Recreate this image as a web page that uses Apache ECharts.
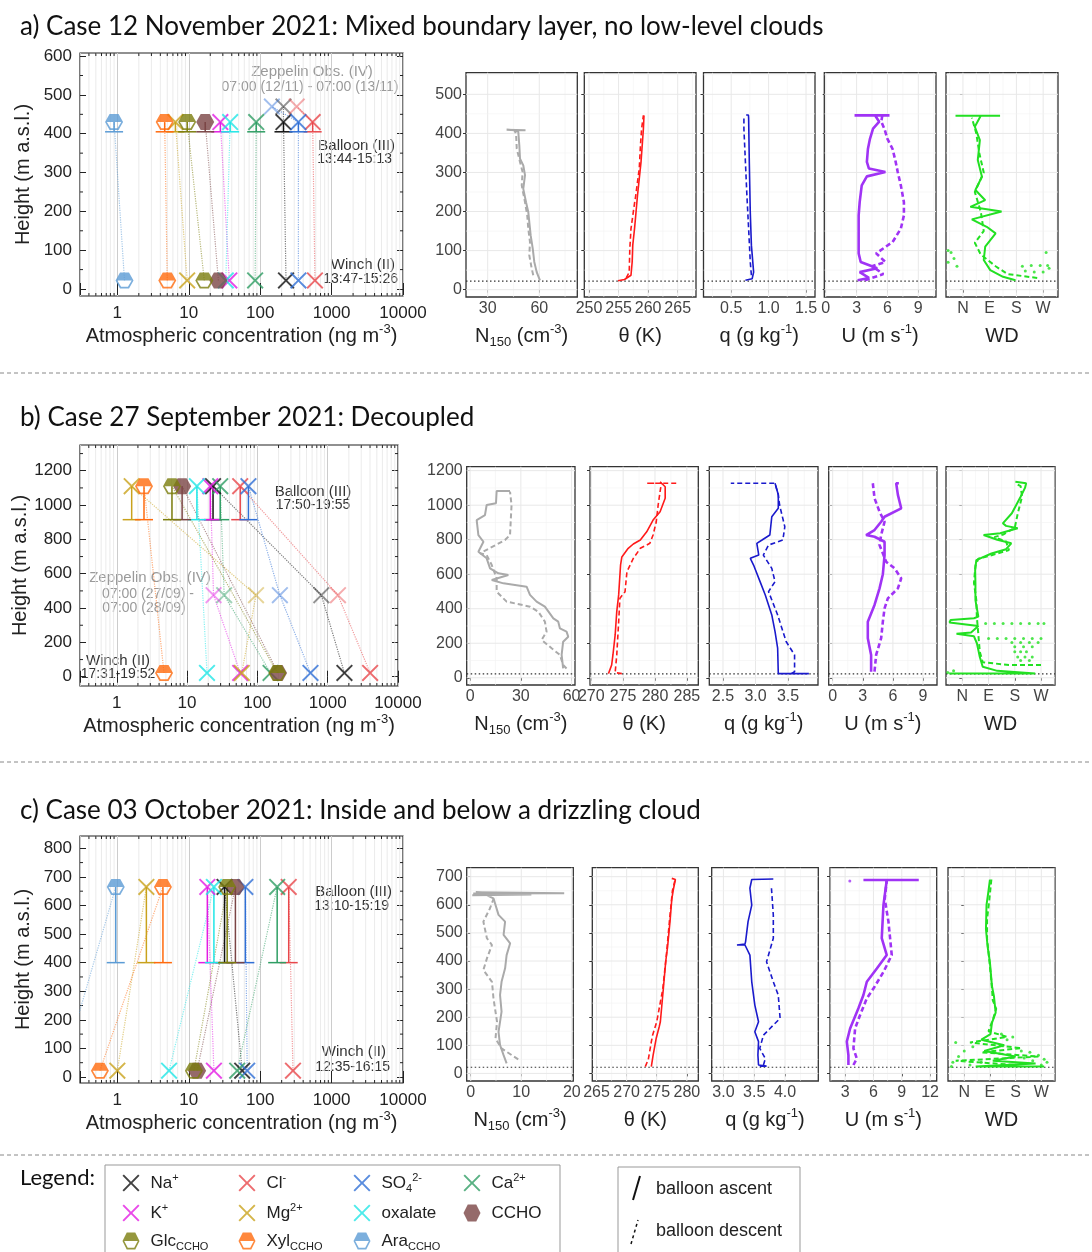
<!DOCTYPE html>
<html>
<head>
<meta charset="utf-8">
<title>Balloon, winch and Zeppelin profiles</title>
<script src="https://cdn.jsdelivr.net/npm/echarts@6.0.0/dist/echarts.min.js"></script>
<style>
  html, body { margin: 0; padding: 0; background: #fff; }
  #chart { width: 1092px; height: 1252px; }
</style>
</head>
<body>
<div id="chart"></div>
<script>
const FONT = 'Liberation Sans'
const TITLE_FONT = 'Lato'

// ---------- chemistry, left panels (ng m-3) ----------
const speciesKeys = ['Na', 'Cl', 'SO4', 'Ca', 'K', 'Mg', 'oxalate', 'CCHO', 'Glc', 'Xyl', 'Ara']
const speciesColors = ['#111111', '#e8474b', '#2f6fd6', '#2f9e64', '#e31ce3', '#c9a21c', '#20e6e6', '#7a4545', '#7b7d0d', '#ff6a0d', '#5b9bd5']

const balloonA = [212, 543, 343, 88, 27.7, 6.5, 38, 17, 9.5, 4.6, 0.9]
const winchA = [230, 585, 343, 85, 37, 9.5, 33, 26, 16.5, 5.0, 1.26]
const zeppelinA = [212, 325, 146, null, null, null, null, null, null, null, null]

const balloonB = [23.4, 57, 74.6, 29.6, 21.4, 1.63, 13.8, 8.5, 6.1, 2.44, null]
const winchB = [1730, 4014, 569, 154, 57, 60, 19.2, 197, 192, 4.7, null]
const zeppelinB = [812, 1400, 209, 33.7, 23.8, 95.6, null, null, null, null, null]

const balloonC = [31.7, 251, 62, 173, 18.2, 2.55, 22.5, 45, 34.5, 4.35, 0.95]
const winchC = [56, 288, 65.8, 47.7, 22.5, 1.0, 5.3, 13.1, 11.8, 0.57, 0.17]
const zeppelinC = [null, null, null, null, null, null, null, null, null, null, null]

const balloonHeights = [430, 1110, 665]
const balloonLowHeights = [405, 915, 400]
const winchHeights = [22, 22, 22]
const zeppelinHeights = [470, 475, null]

// ---------- profiles: [value, height m] ----------
// case a
const n150AscA = [[60.4, 24], [58.5, 45], [57.1, 71], [56.2, 105], [55, 139], [54.2, 173], [53.6, 199], [52.3, 224], [50.7, 258], [51.7, 293], [50.7, 318], [48.8, 335], [48.4, 369], [47.8, 404], [46, 408], [41, 409], [52, 408]]
const n150DesA = [[56.5, 37], [55.6, 54], [54.2, 88], [54.6, 122], [53.6, 156], [53, 190], [51.7, 224], [49.8, 267], [50.3, 301], [48.8, 327], [46.9, 361], [46.5, 399], [45.5, 408]]
const thetaAscA = [[254.9, 23], [256, 26], [257.1, 37], [257.3, 71], [257.4, 114], [257.7, 156], [258.2, 241], [258.8, 327], [259.2, 412], [259.3, 446]]
const thetaDesA = [[256.3, 30], [256.8, 45], [256.9, 105], [257.1, 156], [257.5, 200], [257.9, 241], [258.5, 310], [258.7, 369], [258.9, 412], [259.2, 446]]
const qAscA = [[0.69, 24], [0.78, 28], [0.80, 45], [0.77, 114], [0.755, 199], [0.742, 327], [0.733, 440], [0.73, 447], [0.70, 447]]
const qDesA = [[0.77, 37], [0.755, 71], [0.733, 156], [0.71, 241], [0.69, 327], [0.67, 412], [0.67, 440]]
const uAscA = [[3.1, 24], [4.2, 30], [3.3, 45], [5.0, 55], [3.4, 71], [3.2, 93], [3.2, 122], [3.2, 156], [3.2, 190], [3.3, 224], [3.5, 267], [4.0, 290], [5.8, 301], [4.2, 310], [4.0, 327], [4.1, 360], [4.3, 386], [4.6, 412], [5.2, 430], [4.8, 446], [2.8, 446], [6.2, 446]]
const uDesA = [[3.8, 24], [5.6, 40], [4.5, 60], [5.8, 71], [4.9, 93], [6.5, 122], [7.3, 156], [7.6, 190], [7.6, 224], [7.3, 267], [7.0, 301], [6.8, 327], [6.5, 360], [6.0, 386], [5.7, 412], [5.4, 430], [5.5, 446]]
const wdAscA = [[177, 24], [135, 33], [92, 50], [70, 76], [75, 110], [110, 144], [80, 161], [30, 180], [130, 200], [25, 212], [75, 229], [42, 255], [64, 289], [50, 332], [57, 383], [40, 417], [60, 445], [-25, 445], [125, 445]]
const wdDesA = [[250, 30], [150, 40], [110, 60], [60, 90], [40, 120], [70, 150], [60, 200], [40, 250], [70, 300], [55, 350], [45, 400], [30, 440]]
const wdDotsA = [[-50, 100], [-40, 95], [-30, 80], [-50, 70], [-20, 60], [210, 48], [240, 45], [270, 45], [290, 55], [200, 60], [230, 62], [260, 62], [285, 62], [280, 95]]

// case b
const n150AscB = [[55, 54], [54.1, 132], [55, 209], [58, 238], [57, 267], [53.1, 286], [52.1, 325], [49.2, 344], [44.2, 412], [39.3, 441], [35.4, 480], [33.4, 528], [19.7, 547], [12.8, 566], [22.6, 595], [16.7, 605], [11.8, 634], [9.8, 692], [4.9, 730], [7.9, 788], [4.9, 827], [3.9, 914], [8.8, 943], [9.8, 1001], [15.3, 1011], [15.7, 1082], [23.6, 1082]]
const n150DesB = [[57, 54], [55, 74], [53.1, 132], [48.2, 171], [42.3, 219], [45.2, 267], [44.2, 325], [40.3, 383], [35.4, 412], [21.6, 441], [15.7, 499], [15.7, 576], [12.8, 653], [9.8, 711], [5.9, 721], [20.6, 798], [23.6, 827], [24, 904], [24.5, 1001], [23.6, 1078]]
const thetaAscB = [[272.7, 24], [273.0, 24], [273.2, 74], [273.4, 132], [273.75, 248], [274.0, 383], [274.3, 480], [274.6, 654], [274.8, 700], [275.8, 750], [276.6, 775], [277.7, 798], [278.7, 846], [279.7, 914], [280.8, 962], [281.6, 1040], [281.6, 1107], [280.8, 1136]]
const thetaDesB = [[274.8, 24], [273.75, 30], [274.0, 132], [274.3, 325], [274.5, 461], [275.3, 499], [275.6, 615], [276.6, 692], [277.7, 750], [279.2, 779], [279.7, 827], [280.2, 904], [280.5, 1001], [280.8, 1078], [281.0, 1127], [278.7, 1127], [283.6, 1127]]
const qAscB = [[3.82, 24], [3.35, 24], [3.34, 35], [3.34, 171], [3.30, 267], [3.25, 364], [3.20, 422], [3.15, 480], [3.07, 557], [2.97, 653], [2.92, 692], [3.05, 711], [3.02, 779], [3.10, 798], [3.22, 827], [3.25, 933], [3.35, 982], [3.35, 1060], [3.30, 1127]]
const qDesB = [[3.55, 24], [3.60, 35], [3.60, 132], [3.47, 210], [3.34, 364], [3.20, 499], [3.30, 557], [3.25, 634], [3.12, 711], [3.20, 769], [3.42, 798], [3.45, 875], [3.37, 1001], [3.35, 1060], [3.30, 1127], [2.62, 1127]]
const uAscB = [[3.83, 35], [3.83, 132], [3.5, 229], [3.5, 325], [4.17, 422], [4.67, 518], [5.0, 600], [5.17, 711], [5.17, 788], [4.17, 817], [3.33, 827], [4.17, 856], [4.83, 904], [5.17, 933], [6.83, 982], [6.5, 1060], [6.33, 1127], [6.6, 1127]]
const uDesB = [[4.17, 35], [4.33, 132], [4.83, 229], [5.0, 325], [5.17, 402], [5.5, 460], [6.5, 518], [6.83, 576], [6.17, 634], [5.33, 672], [4.67, 769], [4.83, 827], [5.17, 904], [4.67, 962], [4.17, 1040], [4.0, 1127]]
const wdAscB = [[-45, 25], [250, 25], [120, 40], [70, 64], [60, 120], [55, 160], [50, 200], [40, 240], [-20, 255], [30, 262], [55, 300], [-44, 320], [-40, 335], [40, 345], [55, 354], [45, 450], [45, 547], [44, 624], [48, 682], [100, 720], [150, 745], [168, 779], [120, 800], [73, 827], [130, 837], [190, 866], [150, 880], [139, 895], [170, 953], [200, 1049], [215, 1100], [219, 1127], [182, 1136]]
const wdDesB = [[270, 74], [160, 74], [70, 90], [60, 150], [55, 250], [50, 350], [48, 450], [40, 550], [45, 650], [55, 690], [100, 710], [160, 740], [150, 790], [110, 815], [140, 830], [180, 870], [190, 950], [205, 1050], [200, 1110], [182, 1127]]
const wdDotsB = [[80, 315], [110, 315], [140, 315], [170, 315], [200, 315], [230, 315], [260, 315], [280, 315], [90, 228], [120, 228], [150, 228], [180, 228], [210, 228], [240, 228], [270, 228], [170, 205], [200, 205], [230, 205], [260, 205], [180, 180], [210, 180], [240, 180], [180, 150], [200, 150], [220, 150], [190, 120], [215, 120], [240, 120], [200, 100], [230, 100], [-30, 40], [-50, 30]]

// case c
const n150AscC = [[7.1, 36], [6.5, 65], [5.8, 101], [5.5, 148], [6.1, 220], [5.8, 279], [6.1, 326], [6.8, 374], [7.1, 421], [7.8, 463], [6.5, 493], [6.8, 540], [5.5, 564], [4.5, 623], [3.0, 635], [0.5, 640], [18.5, 641], [1, 645], [12, 637], [0.3, 634]]
const n150DesC = [[9.4, 50], [6.1, 89], [4.9, 124], [5.2, 184], [4.5, 267], [4.2, 326], [2.5, 368], [3.2, 409], [4.2, 457], [3.2, 481], [2.5, 540], [3.8, 587], [4.5, 620]]
const thetaAscC = [[274.1, 24], [274.4, 65], [274.9, 124], [275.4, 165], [275.6, 184], [276.1, 303], [276.5, 400], [276.8, 450], [277.2, 540], [277.5, 620], [277.8, 659], [278.1, 690], [277.5, 694]]
const thetaDesC = [[273.1, 24], [273.6, 50], [274.1, 112], [274.3, 135], [275, 184], [276, 300], [276.6, 421], [277.1, 540], [277.6, 650], [278.1, 694]]
const qAscC = [[3.59, 26], [3.70, 26], [3.57, 30], [3.56, 65], [3.57, 113], [3.51, 148], [3.57, 184], [3.51, 243], [3.46, 326], [3.43, 421], [3.35, 457], [3.22, 457], [3.35, 460], [3.36, 469], [3.40, 540], [3.46, 599], [3.43, 659], [3.46, 690], [3.81, 692]]
const qDesC = [[3.65, 30], [3.68, 53], [3.59, 89], [3.65, 136], [3.81, 172], [3.92, 196], [3.89, 279], [3.81, 326], [3.70, 397], [3.81, 481], [3.81, 563], [3.78, 659]]
const uAscC = [[3.35, 30], [3.35, 65], [3.18, 113], [3.53, 160], [4.41, 232], [4.94, 279], [5.30, 326], [6.36, 373], [7.41, 421], [6.88, 481], [7.06, 599], [7.41, 688], [4.94, 688], [10.8, 688]]
const uDesC = [[3.88, 30], [4.24, 53], [3.88, 89], [4.06, 160], [4.59, 208], [5.30, 267], [6.0, 302], [7.06, 361], [7.94, 421], [7.59, 540], [7.2, 620], [7.41, 688]]
const uDotsC = [[3.5, 685]]
const wdAscC = [[90, 690], [85, 650], [78, 600], [76, 513], [82, 450], [90, 394], [97, 311], [104, 275], [110, 216], [97, 180], [92, 140], [60, 120], [140, 100], [70, 80], [180, 60], [100, 45], [250, 35], [40, 25], [280, 25]]
const wdDesC = [[95, 690], [88, 620], [80, 550], [80, 480], [88, 400], [95, 330], [100, 260], [112, 230], [100, 190], [85, 150], [150, 130], [20, 110], [200, 90], [60, 75], [260, 60], [-30, 45], [180, 30]]
const wdDotsC = [[-40, 40], [-20, 60], [-45, 25], [0, 80], [30, 95], [-30, 110], [150, 120], [170, 130], [130, 140], [200, 80], [230, 75], [260, 65], [280, 50], [290, 40], [270, 30], [240, 45], [210, 55], [60, 40], [20, 30]]

// ---------- tick labels ----------
const leftYTicks = [[0, 100, 200, 300, 400, 500, 600], [0, 200, 400, 600, 800, 1000, 1200], [0, 100, 200, 300, 400, 500, 600, 700, 800]]
const profYTicks = [[0, 100, 200, 300, 400, 500], [0, 200, 400, 600, 800, 1000, 1200], [0, 100, 200, 300, 400, 500, 600, 700]]
const profXTicks = [
  [[30, 60], [250, 255, 260, 265], [0.5, 1.0, 1.5], [0, 3, 6, 9], [0, 90, 180, 270]],
  [[0, 30, 60], [270, 275, 280, 285], [2.5, 3.0, 3.5], [0, 3, 6, 9], [0, 90, 180, 270]],
  [[0, 10, 20], [265, 270, 275, 280], [3.0, 3.5, 4.0], [3, 6, 9, 12], [0, 90, 180, 270]]
]
const windLetters = { 0: 'N', 90: 'E', 180: 'S', 270: 'W' }

// ---------- layout ----------
const leftRects = [[80, 53, 323, 243], [80, 445, 318, 241], [80, 836, 323, 247]]
const leftYRanges = [[-18, 608], [-54, 1350], [-21, 843]]
const profTop = [72.7, 466.7, 867.7]
const profBottom = [297, 685, 1081]
const profLeft = [[466, 584.3, 703.5, 824.3, 946], [466.7, 590, 709.3, 828.7, 946], [466.7, 592.3, 711.7, 830, 948]]
const profRight = [[577.3, 696, 815, 936, 1058], [575, 698.3, 818, 937, 1055], [573.3, 698.3, 818.3, 936.7, 1055]]
const profYRange = [[-18.7, 555.3], [-42, 1223], [-27, 732]]
const profXRange = [
  [[17.4, 82.1], [249.2, 268.1], [0.13, 1.62], [-0.14, 10.72], [-57, 320]],
  [[-2, 62], [269.8, 286.8], [2.29, 3.96], [-0.4, 10.4], [-56, 318]],
  [[-0.8, 20.3], [264.3, 281.9], [2.81, 4.54], [1.4, 12.7], [-57, 318]]
]
const profNames = ['N{sub|150} (cm{sup|-3})', 'θ (K)', 'q (g kg{sup|-1})', 'U (m s{sup|-1})', 'WD']
const profColors = ['#aaaaaa', '#ff1a1a', '#1a1acc', '#a033f5', '#22e022']
const profWidths = [2, 1.6, 1.6, 2.6, 2]

const profAscents = [
  [n150AscA, thetaAscA, qAscA, uAscA, wdAscA],
  [n150AscB, thetaAscB, qAscB, uAscB, wdAscB],
  [n150AscC, thetaAscC, qAscC, uAscC, wdAscC]
]
const profDescents = [
  [n150DesA, thetaDesA, qDesA, uDesA, wdDesA],
  [n150DesB, thetaDesB, qDesB, uDesB, wdDesB],
  [n150DesC, thetaDesC, qDesC, uDesC, wdDesC]
]
const profDots = [
  [null, null, null, null, wdDotsA],
  [null, null, null, null, wdDotsB],
  [null, null, null, uDotsC, wdDotsC]
]

const X_PATH = 'path://M8,0L50,42L92,0L100,8L58,50L100,92L92,100L50,58L8,100L0,92L42,50L0,8Z'
const HEX_PATH = 'path://M25,0L75,0L100,50L75,100L25,100L0,50Z'
const HALF_HEX_PATH = 'path://M25,0L75,0L100,50L75,100L25,100L0,50Z M31,11L10,50L31,89L69,89L90,50L69,11Z M25,0L75,0L100,50L0,50Z'
function symbolOf(k) { return k < 7 ? X_PATH : (k === 7 ? HEX_PATH : HALF_HEX_PATH) }
function symbolSizeOf(k) { return k < 7 ? [17, 17] : [18, 16] }

function richSS(fs, color) {
  const s = Math.round(fs * 0.65)
  return {
    sup: { fontSize: s, verticalAlign: 'top', color: color, fontFamily: FONT },
    sub: { fontSize: s, verticalAlign: 'bottom', color: color, fontFamily: FONT }
  }
}

function minorValues(major, lo, hi) {
  const step = major[1] - major[0]
  const out = []
  for (let i = -1; i < major.length; i++) {
    const v = +(major[0] + (i + 0.5) * step).toFixed(6)
    if (v > lo && v < hi) out.push(v)
  }
  return out
}

function logMinorValues() {
  const out = []
  for (let d = -1; d <= 3; d++) {
    for (let m = 2; m <= 9; m++) {
      const v = +(m * Math.pow(10, d)).toPrecision(3)
      if (v > 0.3 && v < 10000) out.push(v)
    }
  }
  return out
}

function decadeLabel(v) {
  const l = Math.log10(v)
  return (v >= 1 && Math.abs(l - Math.round(l)) < 1e-6) ? String(Math.round(v)) : ''
}
const plainLabel = v => String(v)

const grids = []
const xAxes = []
const yAxes = []
const series = []

// grid lines, minor ticks and the 22 m reference line
function decorSeries(xi, yi, items) {
  return {
    type: 'custom',
    xAxisIndex: xi,
    yAxisIndex: yi,
    silent: true,
    z: 1,
    encode: { x: 0, y: 1 },
    data: items,
    renderItem: function(params, api) {
      const cs = params.coordSys
      const p = api.coord([api.value(0), api.value(1)])
      const kind = api.value(2)
      const L = cs.x; const R = cs.x + cs.width; const T = cs.y; const B = cs.y + cs.height
      const seg = (x1, y1, x2, y2, stroke, w, dash) => ({
        type: 'line', shape: { x1, y1, x2, y2 }, style: { stroke, lineWidth: w, lineDash: dash || null }
      })
      switch (kind) {
        case 0: return seg(p[0], T, p[0], B, '#e8e8e8', 1)
        case 1: return seg(p[0], T, p[0], B, '#f2f2f2', 0.6)
        case 2: return seg(L, p[1], R, p[1], '#e8e8e8', 1)
        case 3: return seg(L, p[1], R, p[1], '#f2f2f2', 0.6)
        case 4: return seg(L, p[1], R, p[1], '#333333', 1.2, [1.5, 2.5])
        case 5: return {
          type: 'group',
          children: [
            seg(p[0], T, p[0], B, '#e6e6e6', 0.8),
            seg(p[0], B, p[0], B - 3, '#222', 1),
            seg(p[0], T, p[0], T + 3, '#222', 1)
          ]
        }
        case 6: return {
          type: 'group',
          children: [seg(L, p[1], L + 3, p[1], '#222', 1), seg(R, p[1], R - 3, p[1], '#222', 1)]
        }
      }
    }
  }
}

function addLeftPanel(ci, balloon, winch, zeppelin) {
  const [l, t, w, h] = leftRects[ci]
  const [ymin, ymax] = leftYRanges[ci]
  const major = leftYTicks[ci]
  const gi = grids.length
  grids.push({ left: l, top: t, width: w, height: h, show: true, borderColor: '#222', borderWidth: 1.2 })

  const xi = xAxes.length
  xAxes.push({
    type: 'log', logBase: 10, gridIndex: gi, min: 0.3, max: 10000, position: 'bottom',
    axisLine: { show: false },
    axisTick: { inside: true, length: 6, lineStyle: { color: '#222' } },
    axisLabel: { formatter: decadeLabel, fontSize: 17, color: '#222', margin: 9 },
    splitLine: { show: true, lineStyle: { color: '#cccccc', width: 1 } },
    name: 'Atmospheric concentration (ng m{sup|-3})',
    nameLocation: 'middle', nameGap: 27,
    nameTextStyle: { fontSize: 20, color: '#222', lineHeight: 26, rich: richSS(20, '#222') }
  })
  xAxes.push({
    type: 'log', logBase: 10, gridIndex: gi, min: 0.3, max: 10000, position: 'top',
    axisLine: { show: false },
    axisTick: { inside: true, length: 6, lineStyle: { color: '#222' } },
    axisLabel: { show: false },
    splitLine: { show: false }
  })
  const yi = yAxes.length
  yAxes.push({
    type: 'value', gridIndex: gi, min: ymin, max: ymax, position: 'left',
    axisLine: { show: false },
    axisTick: { inside: true, length: 6, customValues: major, lineStyle: { color: '#222' } },
    axisLabel: { customValues: major, formatter: plainLabel, fontSize: 17, color: '#222', margin: 8 },
    splitLine: { show: false },
    name: 'Height (m a.s.l.)', nameLocation: 'middle', nameRotate: 90, nameGap: 47,
    nameTextStyle: { fontSize: 20, color: '#222' }
  })
  yAxes.push({
    type: 'value', gridIndex: gi, min: ymin, max: ymax, position: 'right',
    axisLine: { show: false },
    axisTick: { inside: true, length: 6, customValues: major, lineStyle: { color: '#222' } },
    axisLabel: { show: false },
    splitLine: { show: false }
  })

  const items = logMinorValues().map(v => [v, (ymin + ymax) / 2, 5])
  minorValues(major, ymin, ymax).forEach(v => items.push([1, v, 6]))
  series.push(decorSeries(xi, yi, items))

  const bH = balloonHeights[ci]; const wH = winchHeights[ci]; const zH = zeppelinHeights[ci]

  // dotted links between the platforms
  speciesKeys.forEach((key, k) => {
    const pts = [[winch[k], wH], [zeppelin[k], zH], [balloon[k], bH]]
      .filter(p => p[0] != null && p[1] != null)
      .sort((a, b) => a[1] - b[1])
    if (pts.length < 2) return
    series.push({
      type: 'line', name: key + ' link', xAxisIndex: xi, yAxisIndex: yi, data: pts,
      symbol: 'none', silent: true, z: 2, clip: true,
      lineStyle: { color: speciesColors[k], width: 1.2, type: 'dotted', opacity: 0.55 }
    })
  })

  // balloon height range
  const bars = []
  speciesKeys.forEach((key, k) => {
    if (balloon[k] != null) bars.push([balloon[k], bH, balloonLowHeights[ci], k])
  })
  series.push({
    type: 'custom', xAxisIndex: xi, yAxisIndex: yi, silent: true, z: 3,
    encode: { x: 0, y: 1 },
    data: bars,
    renderItem: function(params, api) {
      const top = api.coord([api.value(0), api.value(1)])
      const low = api.coord([api.value(0), api.value(2)])
      const c = speciesColors[api.value(3)]
      return {
        type: 'group',
        children: [
          { type: 'line', shape: { x1: top[0], y1: top[1], x2: low[0], y2: low[1] }, style: { stroke: c, lineWidth: 1.5 } },
          { type: 'line', shape: { x1: low[0] - 9, y1: low[1], x2: low[0] + 9, y2: low[1] }, style: { stroke: c, lineWidth: 1.5 } }
        ]
      }
    }
  })

  // markers
  speciesKeys.forEach((key, k) => {
    const pts = []
    if (winch[k] != null && winch[k] >= 0.3) pts.push({ value: [winch[k], wH] })
    if (zeppelin[k] != null) pts.push({ value: [zeppelin[k], zH], itemStyle: { opacity: 0.45 } })
    if (balloon[k] != null) pts.push({ value: [balloon[k], bH] })
    if (!pts.length) return
    series.push({
      type: 'scatter', name: key, xAxisIndex: xi, yAxisIndex: yi, data: pts,
      symbol: symbolOf(k), symbolSize: symbolSizeOf(k), z: 5,
      itemStyle: { color: speciesColors[k] }
    })
  })
}

function profLabel(p) {
  if (p === 2) return v => v.toFixed(1)
  if (p === 4) return v => windLetters[v] || ''
  return plainLabel
}

function addProfilePanel(row, p) {
  const l = profLeft[row][p]; const r = profRight[row][p]
  const t = profTop[row]; const b = profBottom[row]
  const gi = grids.length
  grids.push({ left: l, top: t, width: r - l, height: b - t, show: true, borderColor: '#333', borderWidth: 1.3 })
  const [xmin, xmax] = profXRange[row][p]
  const xMajor = profXTicks[row][p]
  const [ymin, ymax] = profYRange[row]
  const yMajor = profYTicks[row]

  const xi = xAxes.length
  xAxes.push({
    type: 'value', gridIndex: gi, min: xmin, max: xmax,
    axisLine: { show: false },
    axisTick: { customValues: xMajor, length: 3, lineStyle: { color: '#333' } },
    axisLabel: { customValues: xMajor, formatter: profLabel(p), fontSize: 16, color: '#444', margin: 4 },
    splitLine: { show: false },
    name: profNames[p], nameLocation: 'middle', nameGap: 26,
    nameTextStyle: { fontSize: 20, color: '#222', lineHeight: 26, rich: richSS(20, '#222') }
  })
  const yi = yAxes.length
  yAxes.push({
    type: 'value', gridIndex: gi, min: ymin, max: ymax,
    axisLine: { show: false },
    axisTick: { customValues: yMajor, length: 3, lineStyle: { color: '#333' } },
    axisLabel: { show: p === 0, customValues: yMajor, formatter: plainLabel, fontSize: 16, color: '#444', margin: 4 },
    splitLine: { show: false }
  })

  const xMid = (xmin + xmax) / 2; const yMid = (ymin + ymax) / 2
  const items = []
  xMajor.forEach(v => items.push([v, yMid, 0]))
  minorValues(xMajor, xmin, xmax).forEach(v => items.push([v, yMid, 1]))
  yMajor.forEach(v => items.push([xMid, v, 2]))
  minorValues(yMajor, ymin, ymax).forEach(v => items.push([xMid, v, 3]))
  items.push([xMid, 22, 4])
  series.push(decorSeries(xi, yi, items))

  series.push({
    type: 'line', xAxisIndex: xi, yAxisIndex: yi, data: profAscents[row][p],
    symbol: 'none', silent: true, z: 3,
    lineStyle: { color: profColors[p], width: profWidths[p] }
  })
  series.push({
    type: 'line', xAxisIndex: xi, yAxisIndex: yi, data: profDescents[row][p],
    symbol: 'none', silent: true, z: 3,
    lineStyle: { color: profColors[p], width: profWidths[p], type: [5, 3] }
  })
  if (profDots[row][p]) {
    series.push({
      type: 'scatter', xAxisIndex: xi, yAxisIndex: yi, data: profDots[row][p],
      symbolSize: 3, silent: true, z: 3, itemStyle: { color: profColors[p] }
    })
  }
}

addLeftPanel(0, balloonA, winchA, zeppelinA)
addLeftPanel(1, balloonB, winchB, zeppelinB)
addLeftPanel(2, balloonC, winchC, zeppelinC)
for (let row = 0; row < 3; row++) {
  for (let p = 0; p < 5; p++) addProfilePanel(row, p)
}

// ---------- legend ----------
const legendLabels = {
  Na: 'Na{sup|+}', Cl: 'Cl{sup|-}', SO4: 'SO{sub|4}{sup|2-}', Ca: 'Ca{sup|2+}',
  K: 'K{sup|+}', Mg: 'Mg{sup|2+}', oxalate: 'oxalate', CCHO: 'CCHO',
  Glc: 'Glc{sub|CCHO}', Xyl: 'Xyl{sub|CCHO}', Ara: 'Ara{sub|CCHO}'
}
const legendCols = [131, 247, 362, 472]
const legendRows = [1183, 1213, 1241]
const legends = speciesKeys.map((key, k) => ({
  data: [key],
  left: legendCols[k % 4] - 8.5,
  top: legendRows[Math.floor(k / 4)] - 11,
  itemWidth: 17, itemHeight: 17, padding: 0, itemGap: 0, selectedMode: false,
  formatter: name => legendLabels[name],
  textStyle: { fontSize: 17, color: '#222', fontFamily: FONT, lineHeight: 22, padding: [0, 0, 0, 6], rich: richSS(17, '#222') }
}))

// ---------- texts and frames ----------
const graphics = []
function addText(x, y, text, style) {
  graphics.push({
    type: 'text', x: x, y: y, silent: true,
    style: Object.assign({ text: text, fontFamily: FONT, fontSize: 15, fill: '#333', align: 'left', verticalAlign: 'middle' }, style)
  })
}
function addLine(x1, y1, x2, y2, style) {
  graphics.push({ type: 'line', silent: true, shape: { x1, y1, x2, y2 }, style: Object.assign({ stroke: '#888', lineWidth: 1 }, style) })
}

addText(20, 27, 'a) Case 12 November 2021: Mixed boundary layer, no low-level clouds', { fontFamily: TITLE_FONT, fontSize: 26, fill: '#111' })
addText(20, 418, 'b) Case 27 September 2021: Decoupled', { fontFamily: TITLE_FONT, fontSize: 26, fill: '#111' })
addText(20, 811, 'c) Case 03 October 2021: Inside and below a drizzling cloud', { fontFamily: TITLE_FONT, fontSize: 26, fill: '#111' })

addLine(0, 373, 1092, 373, { lineDash: [4, 3] })
addLine(0, 762, 1092, 762, { lineDash: [4, 3] })
addLine(0, 1155, 1092, 1155, { lineDash: [4, 3] })

const grey = '#9a9a9a'
addText(312, 72, 'Zeppelin Obs. (IV)', { align: 'center', fill: grey })
addText(310, 87, '07:00 (12/11) - 07:00 (13/11)', { align: 'center', fill: grey, fontSize: 14 })
addText(395, 146, 'Balloon (III)', { align: 'right' })
addText(392, 159, '13:44-15:13', { align: 'right', fontSize: 14 })
addText(395, 265, 'Winch (II)', { align: 'right' })
addText(398, 279, '13:47-15:26', { align: 'right', fontSize: 14 })

addText(313, 492, 'Balloon (III)', { align: 'center' })
addText(313, 505, '17:50-19:55', { align: 'center', fontSize: 14 })
addText(150, 578, 'Zeppelin Obs. (IV)', { align: 'center', fill: grey })
addText(148, 594, '07:00 (27/09) -', { align: 'center', fill: grey, fontSize: 14 })
addText(144, 608, '07:00 (28/09)', { align: 'center', fill: grey, fontSize: 14 })
addText(118, 661, 'Winch (II)', { align: 'center' })
addText(118, 674, '17:31-19:52', { align: 'center', fontSize: 14 })

addText(392, 892, 'Balloon (III)', { align: 'right' })
addText(389, 906, '13:10-15:19', { align: 'right', fontSize: 14 })
addText(386, 1052, 'Winch (II)', { align: 'right' })
addText(390, 1067, '12:35-16:15', { align: 'right', fontSize: 14 })

addText(20, 1178, 'Legend:', { fontFamily: TITLE_FONT, fontSize: 22, fill: '#111' })
graphics.push({ type: 'rect', silent: true, shape: { x: 105, y: 1165, width: 455, height: 100 }, style: { fill: 'rgba(0,0,0,0)', stroke: '#999', lineWidth: 1 } })
graphics.push({ type: 'rect', silent: true, shape: { x: 618, y: 1167, width: 182, height: 100 }, style: { fill: 'rgba(0,0,0,0)', stroke: '#999', lineWidth: 1 } })
addLine(633, 1200, 640, 1176, { stroke: '#111', lineWidth: 2 })
addLine(631, 1244, 638, 1220, { stroke: '#111', lineWidth: 1.5, lineDash: [3, 3] })
addText(656, 1189, 'balloon ascent', { fontSize: 18, fill: '#222' })
addText(656, 1231, 'balloon descent', { fontSize: 18, fill: '#222' })

const chart = echarts.init(document.getElementById('chart'))
chart.setOption({
  animation: false,
  backgroundColor: '#fff',
  textStyle: { fontFamily: FONT },
  grid: grids,
  xAxis: xAxes,
  yAxis: yAxes,
  legend: legends,
  graphic: graphics,
  series: series
})
window.addEventListener('resize', () => { chart.resize() })
</script>
</body>
</html>
